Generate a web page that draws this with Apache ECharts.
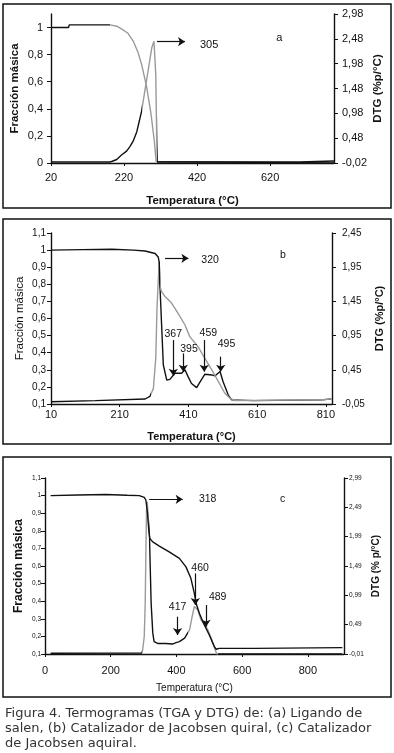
<!DOCTYPE html>
<html>
<head>
<meta charset="utf-8">
<script src="https://cdn.jsdelivr.net/npm/echarts@6/dist/echarts.min.js"></script>
<style>
  html, body { margin: 0; padding: 0; background: #fff; }
  #chart { width: 394px; height: 753px; }
</style>
</head>
<body>
<div id="chart"></div>
<script>
// (a) Ligando de salen  -- [temperatura, valor]
const tgaA = [[20,1],[68,1],[70,1.02],[182,1.02],[200,1.01],[213,0.99],[230,0.96],[245,0.9],[258,0.82],[268,0.73],[282,0.56],[294,0.36],[303,0.16],[308,0.01],[311,0],[795,0]];
const dtgA = [[20,0],[180,0],[186,0.01],[200,0.05],[213,0.14],[227,0.22],[236,0.31],[245,0.42],[255,0.61],[262,0.83],[268,1.02],[277,1.43],[287,1.89],[296,2.3],[302,2.43],[307,1.75],[309.5,0.42],[311,0],[700,0],[705,0.02],[795,0.02]];
const tempTicksA = [20,220,420,620];
const massTicksA = [0,0.2,0.4,0.6,0.8,1];
const dtgTicksA = [-0.02,0.48,0.98,1.48,1.98,2.48,2.98];

// (b) Catalizador de Jacobsen quiral
const tgaB = [[10,1],[100,1.003],[187,1.005],[250,1],[284,0.995],[313,0.98],[322,0.96],[325,0.93],[327,0.81],[329,0.775],[332,0.757],[342,0.728],[361,0.69],[380,0.63],[400,0.562],[414,0.494],[438,0.435],[458,0.367],[478,0.3],[497,0.232],[516,0.163],[531,0.134],[545,0.12],[700,0.123],[800,0.125],[826,0.13]];
const dtgB = [[10,-0.018],[139,0],[284,0.023],[298,0.063],[308,0.175],[315,0.62],[318.5,1.35],[322,1.73],[325,2.03],[327,1.7],[332,1.1],[337,0.52],[347,0.3],[356,0.31],[371,0.4],[390,0.4],[400,0.45],[409,0.35],[419,0.25],[434,0.19],[444,0.275],[458,0.385],[478,0.375],[487,0.36],[502,0.425],[511,0.275],[526,0.08],[536,0.01],[600,0],[800,0.01],[826,0.025]];
const tempTicksB = [10,210,410,610,810];
const massTicksB = [0.1,0.2,0.3,0.4,0.5,0.6,0.7,0.8,0.9,1,1.1];
const dtgTicksB = [-0.05,0.45,0.95,1.45,1.95,2.45];

// (c) Catalizador de Jacobsen aquiral
const tgaC = [[17,1],[100,1.003],[185,1.006],[250,1.002],[287,1],[302,0.99],[307,0.975],[312,0.9],[316,0.8],[319,0.756],[328,0.737],[348,0.713],[378,0.68],[409,0.643],[429,0.595],[444,0.53],[454.5,0.444],[459.6,0.39],[470,0.33],[485,0.265],[500,0.208],[515.5,0.142],[521,0.127],[530,0.132],[640,0.132],[645,0.136],[905,0.136]];
const dtgC = [[17,0.002],[295,0.005],[297,0.05],[302,0.284],[305,0.86],[307,1.7],[309,2.44],[311,2.585],[318,1.985],[323,0.86],[328,0.35],[332,0.2],[343,0.17],[368,0.17],[388,0.16],[399,0.185],[409,0.2],[425,0.26],[440,0.4],[447.5,0.62],[454.5,0.8],[465,0.74],[475,0.57],[485.6,0.485],[495.8,0.4],[506,0.26],[516,0.09],[523,-0.01],[905,-0.01]];
const tempTicksC = [0,200,400,600,800];
const massTicksC = [0.1,0.2,0.3,0.4,0.5,0.6,0.7,0.8,0.9,1,1.1];
const dtgTicksC = [-0.01,0.49,0.99,1.49,1.99,2.49,2.99];

// picos marcados: [x1, y1, x2, y2] en unidades de fraccion masica, y textos [x, y, texto]
const arrowsA = [[310,0.896,387,0.896]];
const notesA = [[453,0.874,'305'],[645,0.926,'a']];
const arrowsB = [[342,0.952,410,0.952],[366,0.474,366,0.265],[395,0.396,395,0.289],[456,0.474,456,0.289],[504,0.377,504,0.289]];
const notesB = [[473,0.94,'320'],[366,0.51,'367'],[411.6,0.42,'395'],[468,0.515,'459'],[521,0.45,'495'],[685,0.97,'b']];
const arrowsC = [[317,0.979,419,0.979],[457.5,0.558,457.5,0.378],[403.5,0.312,403.5,0.208],[490,0.378,490,0.255]];
const notesC = [[495,0.98,'318'],[723,0.98,'c'],[472,0.59,'460'],[403.5,0.368,'417'],[525.5,0.425,'489']];

const K = '#111', G = '#9a9a9a';
const FONT = '"Liberation Sans", Arial, sans-serif';

const panels = [
  { grid: {left: 51, top: 14, width: 283, height: 149}, x: [20, 795], yl: [0, 1.1], yr: [-0.02, 2.98],
    xt: tempTicksA, ylt: massTicksA, yrt: dtgTicksA, tga: tgaA, dtg: dtgA,
    tgaCol: [[182, 311], [K, G, K]], dtgCol: [[268, 310], [K, G, K]],
    arrows: arrowsA, notes: notesA, noteSize: 11,
    xl: {size: 11, margin: 9}, yll: {size: 11, margin: 8}, yrl: {size: 11, margin: 8},
    xn: {text: 'Temperatura (°C)', size: 11.5, weight: 'bold', gap: 32},
    yln: {text: 'Fracción másica', size: 11.5, weight: 'bold', gap: 30},
    yrn: {text: 'DTG (%p/°C)', size: 11.5, weight: 'bold', gap: 38} },
  { grid: {left: 51, top: 233, width: 281, height: 171}, x: [10, 828], yl: [0.1, 1.1], yr: [-0.05, 2.45],
    xt: tempTicksB, ylt: massTicksB, yrt: dtgTicksB, tga: tgaB, dtg: dtgB,
    tgaCol: [[327], [K, G]], dtgCol: [[300, 323], [K, G, K]],
    arrows: arrowsB, notes: notesB, noteSize: 10.5,
    xl: {size: 11, margin: 5}, yll: {size: 10, margin: 5}, yrl: {size: 10, margin: 10},
    xn: {text: 'Temperatura (°C)', size: 11, weight: 'bold', gap: 27},
    yln: {text: 'Fracción másica', size: 11.5, weight: 'normal', gap: 25},
    yrn: {text: 'DTG (%p/°C)', size: 11, weight: 'bold', gap: 42} },
  { grid: {left: 45, top: 478, width: 299, height: 176}, x: [0, 910], yl: [0.1, 1.1], yr: [-0.01, 2.99],
    xt: tempTicksC, ylt: massTicksC, yrt: dtgTicksC, tga: tgaC, dtg: dtgC,
    tgaCol: null, dtgCol: [[295, 316, 435, 528], [K, G, K, G, K]],
    arrows: arrowsC, notes: notesC, noteSize: 10.5,
    xl: {size: 11, margin: 11}, yll: {size: 6.5, margin: 4}, yrl: {size: 6.5, margin: 5},
    xn: {text: 'Temperatura (°C)', size: 10, weight: 'normal', gap: 29},
    yln: {text: 'Fracción másica', size: 12, weight: 'bold', gap: 20},
    yrn: {text: 'DTG (% p/°C)', size: 10, weight: 'bold', gap: 27} }
];

const fmtMass = v => String(+v.toFixed(2)).replace('.', ',');
const fmtDtg = v => v.toFixed(2).replace('.', ',');

function pieces(cfg) {
  const [br, cols] = cfg;
  return cols.map((c, j) => ({
    gte: j === 0 ? -1e6 : br[j - 1],
    lt: j < br.length ? br[j] : 1e6,
    color: c
  }));
}

const grid = [], xAxis = [], yAxis = [], series = [], visualMap = [];
const axisLine = {onZero: false, lineStyle: {color: K, width: 1.4}};

function curve(name, i, yIdx, data, col, z) {
  const idx = series.length;
  const s = {
    type: 'line', name, xAxisIndex: i, yAxisIndex: yIdx, data, color: K,
    showSymbol: false, symbol: 'none', lineStyle: {width: 1.4}, z
  };
  series.push(s);
  if (col) visualMap.push({type: 'piecewise', show: false, seriesIndex: idx, dimension: 0, pieces: pieces(col)});
  return s;
}

panels.forEach((p, i) => {
  grid.push(Object.assign({outerBoundsMode: 'none'}, p.grid));
  xAxis.push({
    type: 'value', gridIndex: i, min: p.x[0], max: p.x[1],
    axisLine, splitLine: {show: false},
    axisTick: {length: 3, customValues: p.xt, lineStyle: {color: K}},
    axisLabel: {customValues: p.xt, fontSize: p.xl.size, margin: p.xl.margin, color: K, fontFamily: FONT},
    name: p.xn.text, nameLocation: 'middle', nameGap: p.xn.gap, nameMoveOverlap: false,
    nameTextStyle: {fontSize: p.xn.size, fontWeight: p.xn.weight, color: K, fontFamily: FONT}
  });
  yAxis.push({
    type: 'value', gridIndex: i, position: 'left', min: p.yl[0], max: p.yl[1],
    axisLine, splitLine: {show: false},
    axisTick: {length: 4, customValues: p.ylt, lineStyle: {color: K}},
    axisLabel: {customValues: p.ylt, formatter: fmtMass, fontSize: p.yll.size, margin: p.yll.margin, color: K, fontFamily: FONT},
    name: p.yln.text, nameLocation: 'middle', nameGap: p.yln.gap, nameMoveOverlap: false,
    nameTextStyle: {fontSize: p.yln.size, fontWeight: p.yln.weight, color: K, fontFamily: FONT}
  });
  yAxis.push({
    type: 'value', gridIndex: i, position: 'right', min: p.yr[0], max: p.yr[1],
    axisLine, splitLine: {show: false},
    axisTick: {length: 4, customValues: p.yrt, lineStyle: {color: K}},
    axisLabel: {customValues: p.yrt, formatter: fmtDtg, fontSize: p.yrl.size, margin: p.yrl.margin, color: K, fontFamily: FONT},
    name: p.yrn.text, nameLocation: 'middle', nameGap: p.yrn.gap, nameMoveOverlap: false,
    nameTextStyle: {fontSize: p.yrn.size, fontWeight: p.yrn.weight, color: K, fontFamily: FONT}
  });

  const tga = curve('TGA', i, 2 * i, p.tga, p.tgaCol, 3);
  tga.markLine = {
    silent: true, symbol: ['none', 'arrow'], symbolSize: 7, animation: false,
    label: {show: false}, lineStyle: {color: K, width: 1.2, type: 'solid'},
    data: p.arrows.map(a => [{coord: [a[0], a[1]]}, {coord: [a[2], a[3]]}])
  };
  tga.markPoint = {
    silent: true, symbol: 'rect', symbolSize: 1, animation: false,
    itemStyle: {color: 'rgba(0,0,0,0)'},
    label: {show: true, position: 'inside', color: K, fontSize: p.noteSize, fontFamily: FONT, formatter: d => d.name},
    data: p.notes.map(n => ({name: n[2], coord: [n[0], n[1]]}))
  };
  curve('DTG', i, 2 * i + 1, p.dtg, p.dtgCol, 2);
});

const frame = (x, y, w, h) => ({type: 'rect', shape: {x, y, width: w, height: h}, style: {fill: 'none', stroke: K, lineWidth: 1.5}, silent: true});
const caption = (y, text) => ({type: 'text', left: 5, top: y, style: {text, fill: '#333', font: '13px "DejaVu Sans", sans-serif'}, silent: true});

const chart = echarts.init(document.getElementById('chart'));
chart.setOption({
  animation: false,
  backgroundColor: '#fff',
  grid, xAxis, yAxis, series, visualMap,
  graphic: [
    frame(3, 4, 388, 204),
    frame(3, 219, 388, 225),
    frame(3, 457, 388, 240),
    caption(707, 'Figura 4. Termogramas (TGA y DTG) de: (a) Ligando de'),
    caption(722, 'salen, (b) Catalizador de Jacobsen quiral, (c) Catalizador'),
    caption(737, 'de Jacobsen aquiral.')
  ]
});
</script>
</body>
</html>
